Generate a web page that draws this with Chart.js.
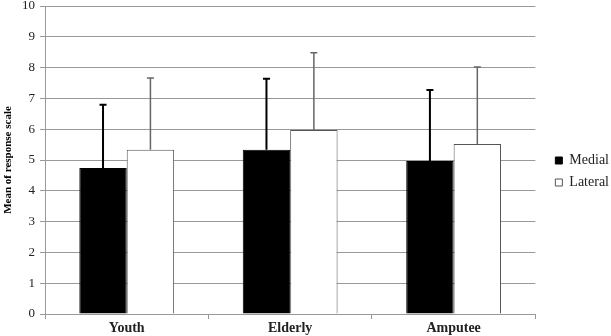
<!DOCTYPE html>
<html>
<head>
<meta charset="utf-8">
<script src="https://cdn.jsdelivr.net/npm/chart.js@4.4.0/dist/chart.umd.min.js"></script>
<style>
  html, body { margin: 0; padding: 0; background: #fff; }
  #wrap { width: 611px; height: 336px; }
</style>
</head>
<body>
<div id="wrap"><canvas id="myBarChart"></canvas></div>
<script>
// data
var groups = ['Youth', 'Elderly', 'Amputee'];
var medial = [4.74, 5.33, 4.97];
var lateral = [5.33, 5.97, 5.52];
// top of the error bars (mean + sd)
var medialTop = [6.79, 7.64, 7.27];
var lateralTop = [7.66, 8.48, 8.02];
var yTicks = [0, 1, 2, 3, 4, 5, 6, 7, 8, 9, 10];

var serif = "'Liberation Serif', 'Times New Roman', serif";

// draws the upward error bars with the chart's own scales
var errorBars = {
    id: 'errorBars',
    afterDatasetsDraw: function(chart) {
        var c = chart.ctx;
        var y = chart.scales.y;
        var tops = [medialTop, lateralTop];
        var colors = ['#000', '#666'];
        var widths = [2, 1.5];
        chart.data.datasets.forEach(function(ds, i) {
            var meta = chart.getDatasetMeta(i);
            meta.data.forEach(function(bar, j) {
                var x = bar.x;
                var yTop = y.getPixelForValue(tops[i][j]);
                c.save();
                c.strokeStyle = colors[i];
                c.lineWidth = widths[i];
                c.beginPath();
                c.moveTo(x, bar.y);
                c.lineTo(x, yTop);
                c.moveTo(x - 3.5, yTop);
                c.lineTo(x + 3.5, yTop);
                c.stroke();
                c.restore();
            });
        });
    }
};

// nudge the legend a bit right of the plot, like the original
var legendShift = {
    id: 'legendShift',
    afterLayout: function(chart) {
        chart.legend.left += 12;
        chart.legend.right += 12;
    }
};

var ctx = document.getElementById('myBarChart').getContext('2d');
var chart = new Chart(ctx, {
    type: 'bar',
    data: {
        labels: groups,
        datasets: [{
            label: 'Medial',
            backgroundColor: '#000',
            borderColor: '#000',
            borderWidth: 1,
            data: medial
        }, {
            label: 'Lateral',
            backgroundColor: '#fff',
            borderColor: '#555',
            borderWidth: 1,
            data: lateral
        }]
    },
    options: {
        responsive: true,
        maintainAspectRatio: false,
        animation: false,
        layout: { padding: { top: 6, right: 4, left: 0, bottom: -1 } },
        datasets: {
            bar: { categoryPercentage: 0.58, barPercentage: 1.0 }
        },
        plugins: {
            tooltip: { enabled: false },
            legend: {
                position: 'right',
                align: 'center',
                labels: {
                    font: { family: serif, size: 14 },
                    color: '#222',
                    boxWidth: 7,
                    boxHeight: 7,
                    padding: 8
                }
            }
        },
        scales: {
            x: {
                grid: {
                    offset: true,
                    drawOnChartArea: false,
                    color: '#999',
                    tickLength: 5
                },
                border: { color: '#999' },
                ticks: {
                    font: { family: serif, size: 14, weight: 'bold', lineHeight: 1 },
                    color: '#222',
                    padding: 2
                }
            },
            y: {
                min: 0,
                max: 10,
                afterBuildTicks: function(axis) {
                    axis.ticks = yTicks.map(function(v) { return { value: v }; });
                },
                afterFit: function(axis) {
                    axis.paddingTop = 0;
                },
                grid: { color: '#999', tickLength: 5 },
                border: { color: '#999' },
                ticks: {
                    font: { family: serif, size: 13, lineHeight: 1 },
                    color: '#222',
                    padding: 5
                },
                title: {
                    display: true,
                    text: 'Mean of response scale',
                    font: { family: serif, size: 11, weight: 'bold', lineHeight: 1 },
                    color: '#000',
                    padding: 3
                }
            }
        }
    },
    plugins: [errorBars, legendShift]
});
</script>
</body>
</html>
